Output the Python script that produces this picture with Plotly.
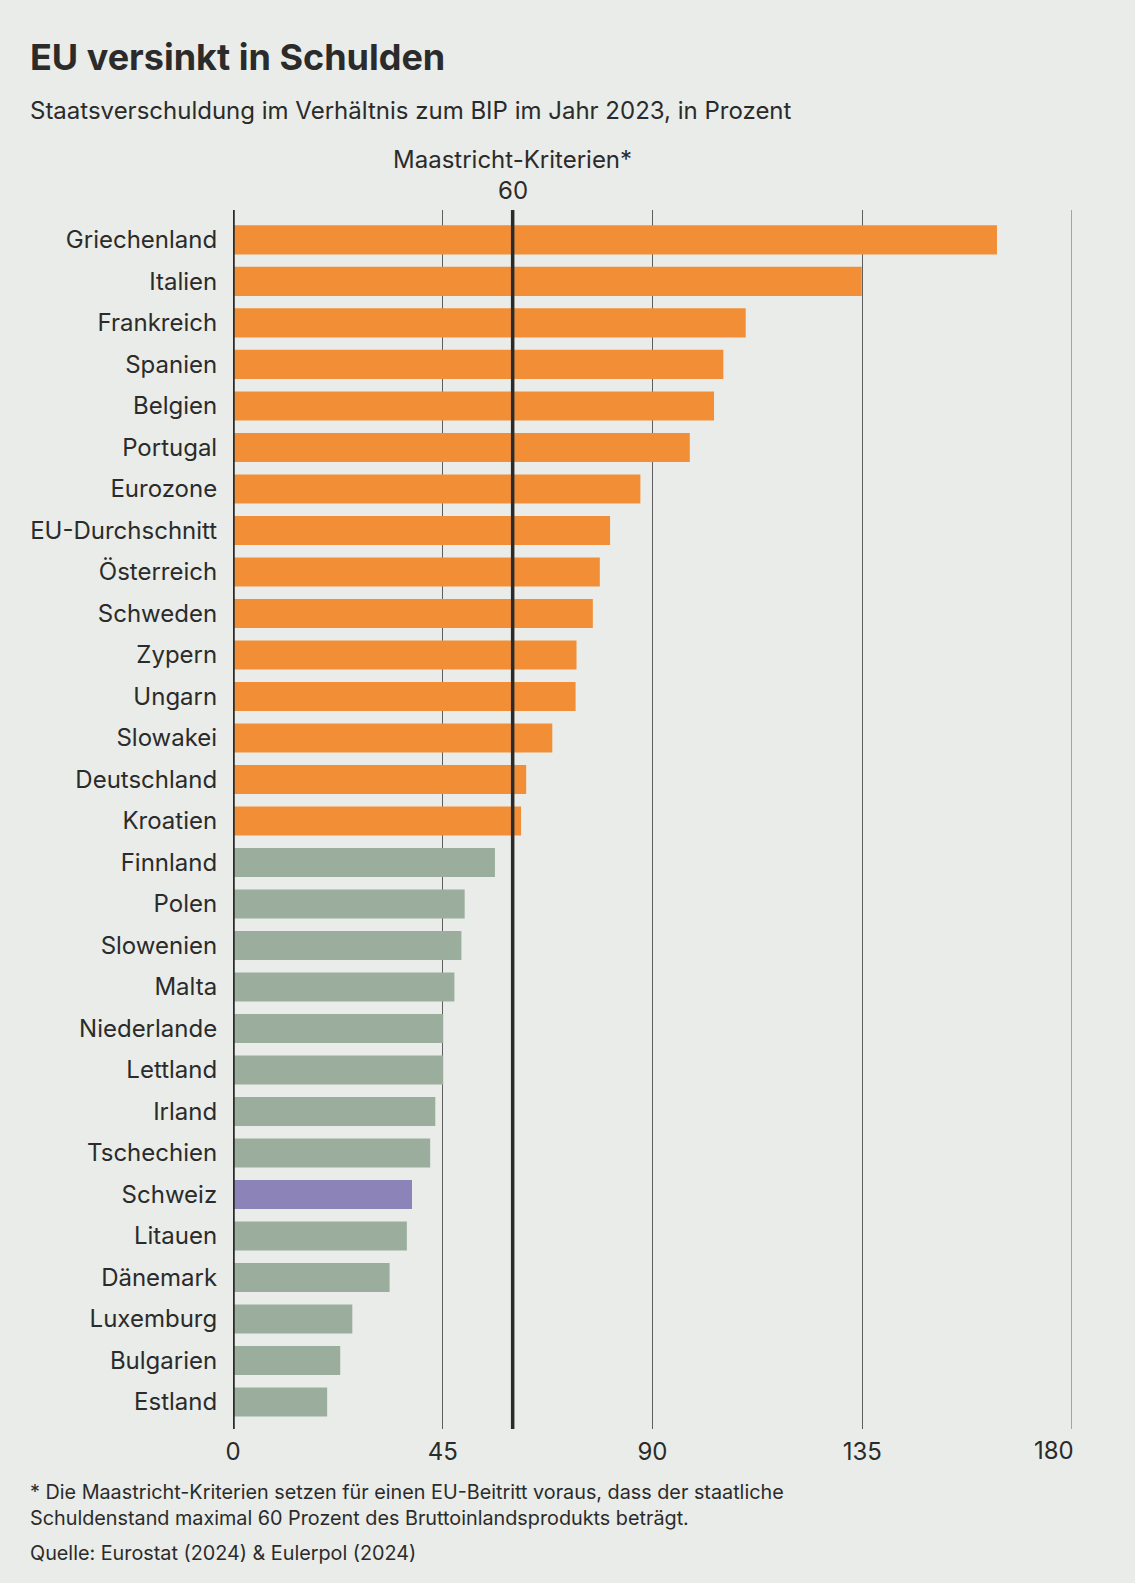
import plotly.graph_objects as go

countries = ["Griechenland", "Italien", "Frankreich", "Spanien", "Belgien", "Portugal",
             "Eurozone", "EU-Durchschnitt", "Österreich", "Schweden", "Zypern", "Ungarn",
             "Slowakei", "Deutschland", "Kroatien", "Finnland", "Polen", "Slowenien",
             "Malta", "Niederlande", "Lettland", "Irland", "Tschechien", "Schweiz",
             "Litauen", "Dänemark", "Luxemburg", "Bulgarien", "Estland"]
values = [163.9, 134.9, 110.0, 105.2, 103.2, 98.0,
          87.4, 80.9, 78.7, 77.2, 73.7, 73.5,
          68.5, 62.9, 61.8, 56.2, 49.7, 49.0,
          47.5, 45.1, 45.1, 43.4, 42.3, 38.4,
          37.3, 33.6, 25.6, 23.0, 20.2]
x_ticks = [0, 45, 90, 135, 180]
maastricht = 60

ORANGE = "#F28F36"
GREEN = "#9BAE9D"
PURPLE = "#8C83B8"
BG = "#E9ECE8"
TXT = "#2B2B2B"

colors = []
for c, v in zip(countries, values):
    if c == "Schweiz":
        colors.append(PURPLE)
    elif v > maastricht:
        colors.append(ORANGE)
    else:
        colors.append(GREEN)

W, H = 1135, 1583
L, R, T, B = 233, 63, 210, 154
PW = W - L - R
PH = H - T - B

def px(xpix):
    return (xpix - L) / PW

def py(ypix):
    return (H - B - ypix) / PH

fig = go.Figure()
fig.add_trace(go.Bar(
    x=values, y=countries, orientation="h",
    marker=dict(color=colors, line=dict(width=0)),
    width=0.7, hoverinfo="x+y",
))

# gridline at the right edge (plotly culls edge gridlines)
fig.add_shape(type="line", xref="x", yref="paper", x0=x_ticks[-1], x1=x_ticks[-1],
              y0=0, y1=1, line=dict(color="#5E5E5E", width=1), layer="below")
fig.add_shape(type="line", xref="x", yref="paper", x0=maastricht, x1=maastricht,
              y0=0, y1=1, line=dict(color=TXT, width=3.5), layer="above")
fig.add_shape(type="line", xref="x", yref="paper", x0=0, x1=0,
              y0=0, y1=1, line=dict(color=TXT, width=3.5), layer="above")

tick_text = [str(t) for t in x_ticks[:-1]] + [""]

font = "Inter, Roboto, sans-serif"
fig.update_layout(
    width=W, height=H,
    margin=dict(l=L, r=R, t=T, b=B),
    paper_bgcolor=BG, plot_bgcolor=BG,
    showlegend=False,
    bargap=0.3,
    font=dict(family=font, color=TXT, size=24),
    xaxis=dict(range=[0, 180], tickvals=x_ticks, ticktext=tick_text,
               showgrid=True, gridcolor="#5E5E5E", gridwidth=1, zeroline=False,
               showline=False, ticks="outside", ticklen=1, tickcolor="rgba(0,0,0,0)",
               tickfont=dict(size=24, color=TXT), fixedrange=True),
    yaxis=dict(categoryorder="array", categoryarray=countries,
               range=[28.65, -0.72], showgrid=False, zeroline=False, showline=False,
               ticks="outside", ticklen=10, tickcolor="rgba(0,0,0,0)",
               tickfont=dict(size=24, color=TXT), fixedrange=True),
)

# last tick label is nudged left in the original
fig.add_annotation(text=str(x_ticks[-1]), x=x_ticks[-1], xref="x", y=py(1450), yref="paper",
                   xanchor="center", yanchor="middle", xshift=-18, showarrow=False,
                   font=dict(family=font, size=24, color=TXT))

annos = [
    dict(text="<b>EU versinkt in Schulden</b>", x=px(28), y=py(57), size=36, xanchor="left"),
    dict(text="Staatsverschuldung im Verhältnis zum BIP im Jahr 2023, in Prozent", x=px(28), y=py(110), size=24, xanchor="left"),
    dict(text="Maastricht-Kriterien*", x=maastricht / 180, y=py(159), size=24, xanchor="center"),
    dict(text="60", x=maastricht / 180, y=py(191), size=24, xanchor="center"),
    dict(text="* Die Maastricht-Kriterien setzen für einen EU-Beitritt voraus, dass der staatliche", x=px(28), y=py(1492), size=19.8, xanchor="left"),
    dict(text="Schuldenstand maximal 60 Prozent des Bruttoinlandsprodukts beträgt.", x=px(28), y=py(1518), size=19.8, xanchor="left"),
    dict(text="Quelle: Eurostat (2024) & Eulerpol (2024)", x=px(28), y=py(1553), size=19.8, xanchor="left"),
]
for a in annos:
    fig.add_annotation(text=a["text"], x=a["x"], y=a["y"], xref="paper", yref="paper",
                       xanchor=a["xanchor"], yanchor="middle", showarrow=False,
                       font=dict(family=font, size=a["size"], color=TXT))

fig.write_html("out.html",
               config={"displayModeBar": False},
               post_script="document.body.style.margin='0';"
                           "document.body.style.overflow='hidden';"
                           "document.body.style.background='" + BG + "';")
